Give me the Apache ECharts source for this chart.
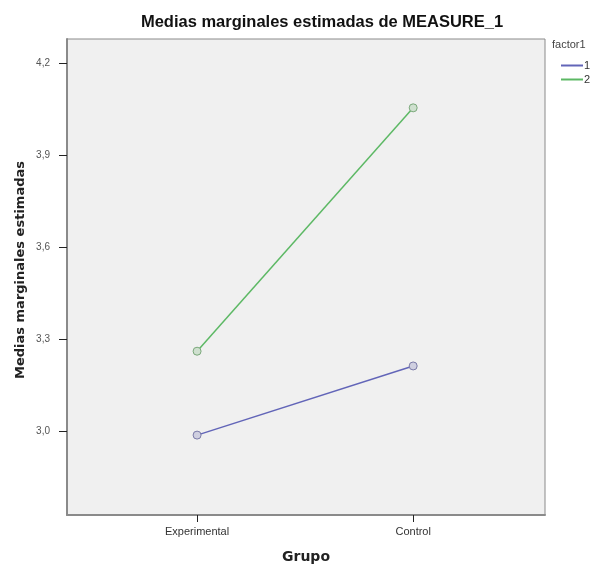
<!DOCTYPE html>
<html>
<head>
<meta charset="utf-8">
<script src="https://cdn.jsdelivr.net/npm/echarts@6/dist/echarts.min.js"></script>
<style>html,body{margin:0;padding:0;background:#fff;}#c{width:596px;height:569px;}</style>
</head>
<body>
<div id="c"></div>
<script>
var categories = ['Experimental', 'Control'];
var seriesNames = ['1', '2'];
var factor1Values = [2.989, 3.214];
var factor2Values = [3.262, 4.054];
var yTicks = [3.0, 3.3, 3.6, 3.9, 4.2];

var blue = '#6265b8', green = '#5cb864';
var chart = echarts.init(document.getElementById('c'));
function pts(vals){ return vals.map(function(v,i){ return [i, v]; }); }
chart.setOption({
  backgroundColor: '#ffffff',
  animation: false,
  title: {
    text: 'Medias marginales estimadas de MEASURE_1',
    left: 317, top: 9, textAlign: 'center',
    textStyle: {fontFamily: 'Liberation Sans, Arial', fontSize: 16.5, fontWeight: 'bold', color: '#111'}
  },
  graphic: [{
    type: 'text', left: 552, top: 39,
    style: {text: 'factor1', font: '11px "Liberation Sans", Arial', fill: '#444'}
  }, {
    type: 'text', x: 21, y: 270, rotation: Math.PI / 2,
    style: {text: 'Medias marginales estimadas', font: 'bold 13px "DejaVu Sans"', fill: '#222', align: 'center', verticalAlign: 'middle'}
  }],
  legend: {
    orient: 'vertical', left: 556, top: 55, itemGap: 3,
    itemWidth: 22, itemHeight: 2, icon: 'rect',
    textStyle: {fontFamily: 'Liberation Sans, Arial', fontSize: 11, color: '#333', padding: [0,0,0,-4]},
    data: [
      {name: seriesNames[0], itemStyle: {color: blue, borderWidth: 0}},
      {name: seriesNames[1], itemStyle: {color: green, borderWidth: 0}}
    ]
  },
  grid: {left: 67, right: 51, top: 39, bottom: 50, show: true, backgroundColor: '#f0f0f0', borderColor: '#8a8a8a', borderWidth: 1},
  xAxis: {
    type: 'value', min: -0.602, max: 1.61,
    name: 'Grupo', nameLocation: 'middle', nameGap: 35,
    nameTextStyle: {fontFamily: 'DejaVu Sans', fontSize: 14, fontWeight: 'bold', color: '#222'},
    splitLine: {show: false},
    axisLine: {show: true, onZero: false, lineStyle: {color: '#8a8a8a', width: 2}},
    axisTick: {show: true, customValues: [0, 1], length: 7, lineStyle: {color: '#222'}},
    axisLabel: {customValues: [0, 1], formatter: function(v){ return categories[Math.round(v)]; }, fontFamily: 'Liberation Sans, Arial', fontSize: 11, color: '#333', margin: 11}
  },
  yAxis: {
    type: 'value', min: 2.729, max: 4.278,
    splitLine: {show: false},
    axisLine: {show: true, onZero: false, lineStyle: {color: '#8a8a8a', width: 2}},
    axisTick: {show: true, customValues: yTicks, length: 8, lineStyle: {color: '#222'}},
    axisLabel: {customValues: yTicks, formatter: function(v){ return v.toFixed(1).replace('.', ','); }, fontFamily: 'Liberation Sans, Arial', fontSize: 10, color: '#555', margin: 17}
  },
  series: [
    {name: seriesNames[0], type: 'line', data: pts(factor1Values), symbol: 'circle', symbolSize: 8,
     lineStyle: {color: blue, width: 1.5}, itemStyle: {color: '#cfcfe0', borderColor: '#7a7aa8', borderWidth: 1}},
    {name: seriesNames[1], type: 'line', data: pts(factor2Values), symbol: 'circle', symbolSize: 8,
     lineStyle: {color: green, width: 1.5}, itemStyle: {color: '#cfe0cf', borderColor: '#7aa87a', borderWidth: 1}}
  ]
});
</script>
</body>
</html>
